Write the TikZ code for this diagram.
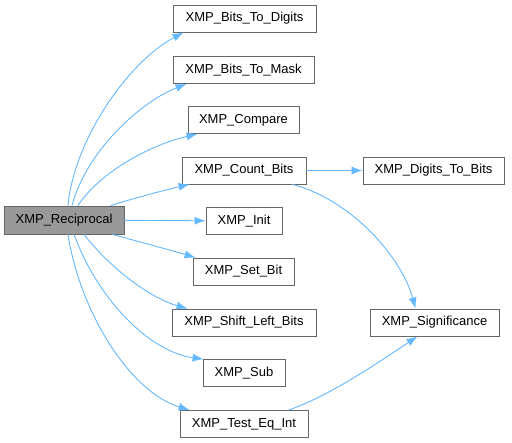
\documentclass[tikz,border=0pt]{standalone}
\usepackage{fontspec}
\setmainfont{Liberation Sans}
\usepackage{tikz}
\usetikzlibrary{arrows.meta}
\definecolor{edgeblue}{HTML}{63B8FF}
\definecolor{boxborder}{HTML}{666666}
\definecolor{rootfill}{HTML}{999999}
\tikzset{
    fnbox/.style={
        draw=boxborder, fill=white, line width=0.8pt,
        minimum height=27pt, inner sep=0pt,
        font=\fontsize{13}{15}\selectfont, align=center
    },
    rootbox/.style={fnbox, fill=rootfill, minimum height=28pt},
    call/.style={-{Latex[length=11pt,width=8pt]}, line width=0.9pt, color=edgeblue},
}

\begin{document}
\begin{tikzpicture}[x=1pt, y=-1pt]
    \useasboundingbox (0,0) rectangle (512,443);
    % caller
    \node[rootbox, minimum width=120pt] (rec) at (64,220) {XMP\_Reciprocal};
    % callees
    \node[fnbox, minimum width=143pt] (btd) at (244.5,18.5) {XMP\_Bits\_To\_Digits};
    \node[fnbox, minimum width=141pt] (btm) at (243.5,70) {XMP\_Bits\_To\_Mask};
    \node[fnbox, minimum width=111pt] (cmp) at (243.5,120) {XMP\_Compare};
    \node[fnbox, minimum width=124pt] (cnt) at (244,170.5) {XMP\_Count\_Bits};
    \node[fnbox, minimum width=76pt] (ini) at (244,221) {XMP\_Init};
    \node[fnbox, minimum width=101pt] (sbt) at (243.5,271.5) {XMP\_Set\_Bit};
    \node[fnbox, minimum width=144pt] (slb) at (244,322.5) {XMP\_Shift\_Left\_Bits};
    \node[fnbox, minimum width=82pt] (sub) at (244,373) {XMP\_Sub};
    \node[fnbox, minimum width=128pt] (teq) at (244,424) {XMP\_Test\_Eq\_Int};
    \node[fnbox, minimum width=141pt] (dtb) at (433.5,170.5) {XMP\_Digits\_To\_Bits};
    \node[fnbox, minimum width=129pt] (sig) at (434.5,322.5) {XMP\_Significance};

    \draw[call] ([xshift=4pt]rec.north) .. controls (74,140) and (128,62) .. ([xshift=11pt]btd.south west);
    \draw[call] ([xshift=8pt]rec.north) .. controls (86,152) and (140,102) .. ([xshift=14pt]btm.south west);
    \draw[call] ([xshift=14pt]rec.north) .. controls (100,172) and (150,145) .. ([xshift=10pt]cmp.south west);
    \draw[call] ([xshift=-14pt]rec.north east) .. controls (135,198) and (165,190) .. ([xshift=8pt]cnt.south west);
    \draw[call] (rec) -- (ini);
    \draw[call] ([xshift=-12pt]rec.south east) .. controls (140,242) and (170,250) .. ([xshift=3pt]sbt.north west);
    \draw[call] ([xshift=20pt]rec.south) .. controls (110,268) and (150,298) .. ([xshift=16pt]slb.north west);
    \draw[call] ([xshift=10pt]rec.south) .. controls (98,300) and (150,352) .. ([xshift=1pt]sub.north west);
    \draw[call] ([xshift=4pt]rec.south) .. controls (80,312) and (130,392) .. ([xshift=10pt]teq.north west);
    \draw[call] (cnt) -- (dtb);
    \draw[call] ([xshift=-14pt]cnt.south east) .. controls (352,200) and (402,258) .. ([xshift=-19pt]sig.north);
    \draw[call] ([xshift=-20pt]teq.north east) .. controls (330,396) and (382,360) .. ([xshift=-17pt]sig.south);
\end{tikzpicture}
\end{document}
